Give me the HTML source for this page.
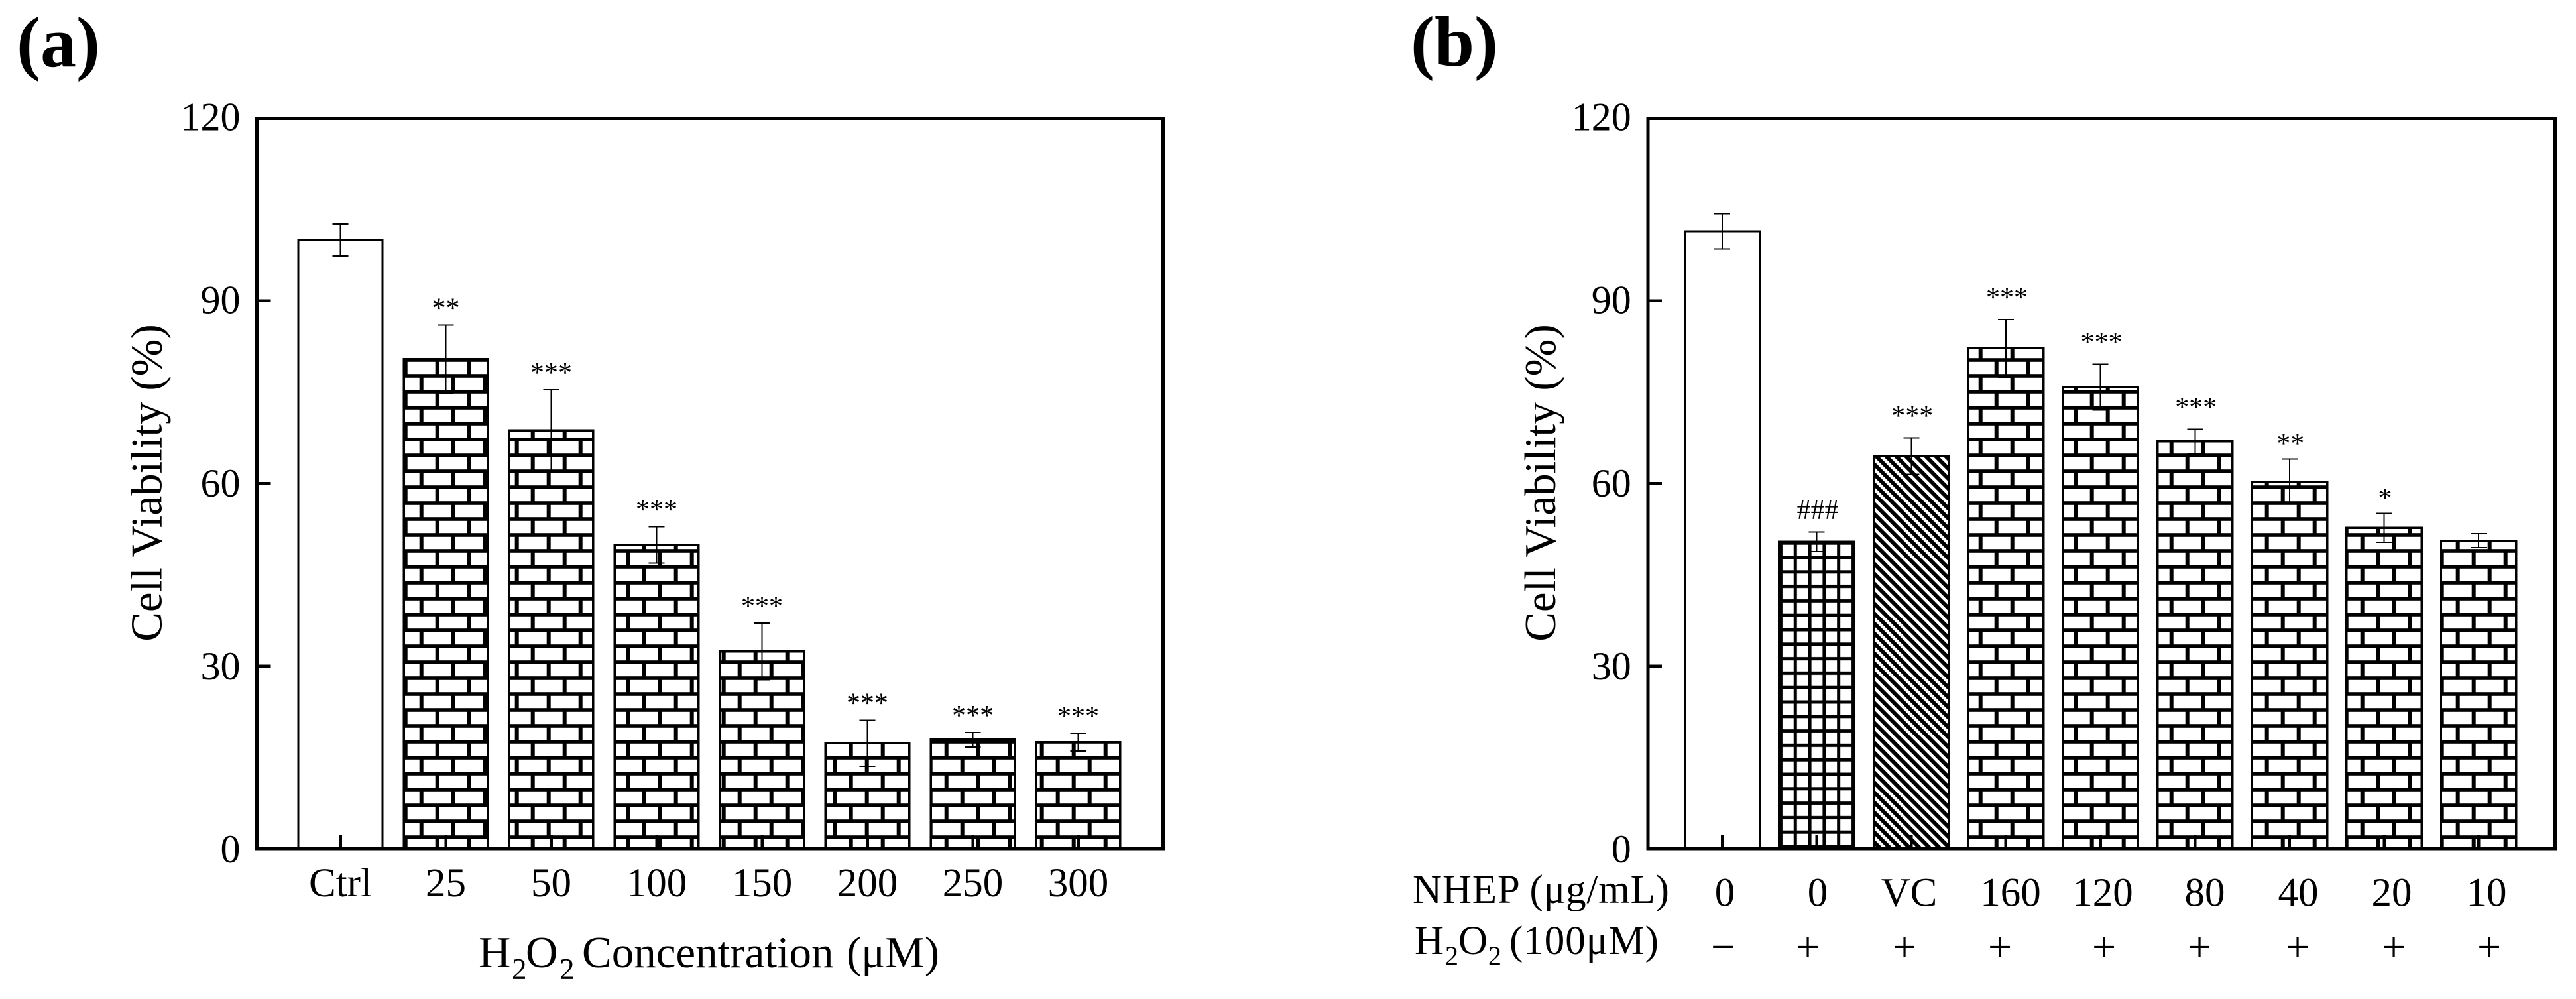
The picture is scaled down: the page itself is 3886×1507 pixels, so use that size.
<!DOCTYPE html>
<html lang="en">
<head>
<meta charset="utf-8">
<title>Cell viability bar charts</title>
<style>
html,body{margin:0;padding:0;background:#fff;}
svg{display:block;}
text{font-family:"Liberation Serif","Times New Roman",serif;fill:#000;}
</style>
</head>
<body>
<svg id="figure" xmlns="http://www.w3.org/2000/svg" width="3886" height="1507" viewBox="0 0 3886 1507">
  <defs>
    <pattern id="brick" patternUnits="userSpaceOnUse" width="48" height="48">
      <rect width="48" height="48" fill="#fff"/>
      <rect x="0" y="12.2" width="48" height="5.6" fill="#000"/>
      <rect x="0" y="36.2" width="48" height="5.6" fill="#000"/>
      <rect x="32.7" y="15" width="6" height="24" fill="#000"/>
      <rect x="8.7" y="39" width="6" height="9" fill="#000"/>
      <rect x="8.7" y="0" width="6" height="15" fill="#000"/>
    </pattern>
    <pattern id="grid" patternUnits="userSpaceOnUse" width="21.8" height="21.8">
      <rect width="21.8" height="21.8" fill="#fff"/>
      <rect x="2.6" y="0" width="5" height="21.8" fill="#000"/>
      <rect x="0" y="10.1" width="21.8" height="5" fill="#000"/>
    </pattern>
    <pattern id="diag" patternUnits="userSpaceOnUse" width="15" height="15" patternTransform="translate(2830,688)">
      <rect width="15" height="15" fill="#fff"/>
      <path d="M-5,-5L20,20M-20,-5L5,20M10,-5L35,20" stroke="#000" stroke-width="6" fill="none"/>
    </pattern>
  </defs>

  <rect x="0" y="0" width="3886" height="1507" fill="#fff"/>

  <text x="25" y="100" font-size="108" font-weight="bold">(a)</text>
  <text x="2128" y="99" font-size="108" font-weight="bold">(b)</text>

  <g id="panel-a"></g>
  <g id="panel-b"></g>

  <text transform="translate(243.3,728.5) rotate(-90)" text-anchor="middle" font-size="67">Cell Viability (%)</text>
  <text transform="translate(2346,728.5) rotate(-90)" text-anchor="middle" font-size="67">Cell Viability (%)</text>

  <g>
    <text x="722" y="1459" font-size="67">H</text>
    <text x="772" y="1477" font-size="45">2</text>
    <text x="793" y="1459" font-size="67">O</text>
    <text x="844" y="1477" font-size="45">2</text>
    <text x="878" y="1459" font-size="67">Concentration</text>
    <text x="1277" y="1459" font-size="67">(μM)</text>
  </g>

  <text x="2131" y="1362" font-size="61" textLength="387" lengthAdjust="spacing">NHEP (μg/mL)</text>
  <g>
    <text x="2134" y="1439" font-size="61">H</text>
    <text x="2180" y="1455" font-size="40">2</text>
    <text x="2200" y="1439" font-size="61">O</text>
    <text x="2245" y="1455" font-size="40">2</text>
    <text x="2277" y="1439" font-size="61" textLength="225" lengthAdjust="spacing">(100μM)</text>
  </g>

  <g font-size="61" text-anchor="middle">
    <text x="2602" y="1366.5">0</text>
    <text x="2742" y="1366.5">0</text>
    <text x="2880" y="1366.5">VC</text>
    <text x="3033" y="1366.5">160</text>
    <text x="3172" y="1366.5">120</text>
    <text x="3326" y="1366.5">80</text>
    <text x="3467" y="1366.5">40</text>
    <text x="3608" y="1366.5">20</text>
    <text x="3751" y="1366.5">10</text>
  </g>
  <g font-size="64" text-anchor="middle">
    <text x="2599" y="1449.5">−</text>
    <text x="2727" y="1449.5">+</text>
    <text x="2873" y="1449.5">+</text>
    <text x="3017" y="1449.5">+</text>
    <text x="3174" y="1449.5">+</text>
    <text x="3318" y="1449.5">+</text>
    <text x="3466" y="1449.5">+</text>
    <text x="3611" y="1449.5">+</text>
    <text x="3755" y="1449.5">+</text>
  </g>
</svg>

<script>
var yTickValues = [0, 30, 60, 90, 120];

var categoriesA = ['Ctrl', '25', '50', '100', '150', '200', '250', '300'];
var valuesA = [100, 80.4, 68.7, 49.9, 32.4, 17.3, 17.9, 17.5];
var errorsA = [2.6, 5.6, 6.7, 3, 4.65, 3.8, 1.2, 1.45];
var marksA = ['', '**', '***', '***', '***', '***', '***', '***'];
var fillsA = ['none', 'brick', 'brick', 'brick', 'brick', 'brick', 'brick', 'brick'];

var categoriesB = ['0', '0', 'VC', '160', '120', '80', '40', '20', '10'];
var valuesB = [101.4, 50.4, 64.5, 82.2, 75.8, 66.9, 60.3, 52.7, 50.6];
var errorsB = [2.9, 1.6, 3, 4.75, 3.75, 2, 3.7, 2.35, 1.15];
var marksB = ['', '###', '***', '***', '***', '***', '**', '*', ''];
var fillsB = ['none', 'grid', 'diag', 'brick', 'brick', 'brick', 'brick', 'brick', 'brick'];

var SVGNS = 'http://www.w3.org/2000/svg';
var Y0 = 1280.2, Y120 = 178.3;

function yScale(v) {
  return Y0 - (v / 120) * (Y0 - Y120);
}

function makeEl(tag, parent, attrs) {
  var el = document.createElementNS(SVGNS, tag);
  for (var k in attrs) { el.setAttribute(k, attrs[k]); }
  parent.appendChild(el);
  return el;
}

function drawPanel(cfg) {
  var g = document.getElementById(cfg.id);
  var xScale = function (i) { return cfg.x0 + cfg.step * i; };

  cfg.values.forEach(function (v, i) {
    var cx = xScale(i);
    var top = yScale(v);
    var w = cfg.barWidth;
    var isPlain = cfg.fills[i] === 'none';
    var bar = makeEl('rect', g, {
      x: cx - w / 2, y: top, width: w, height: Y0 - top,
      fill: isPlain ? '#fff' : 'url(#' + cfg.fills[i] + ')',
      stroke: '#000', 'stroke-width': isPlain ? 3 : 3.4,
      'shape-rendering': 'crispEdges'
    });
    
    
  });

  yTickValues.forEach(function (t) {
    var y = yScale(t);
    if (t > 0 && t < 120) {
      var tick = makeEl('rect', g, {
        x: cfg.left, y: y - 2.25, width: 21, height: 4.5, fill: '#000',
        'shape-rendering': 'crispEdges'
      });
      
      
    }
    var label = makeEl('text', g, {
      x: cfg.left - 25, y: y + 21 - 3 * t / 120,
      'text-anchor': 'end', 'font-size': 60
    });
    label.textContent = String(t);
    
    
  });

  cfg.categories.forEach(function (c, i) {
    var tick = makeEl('rect', g, {
      x: xScale(i) - 2.25, y: Y0 - 21, width: 4.5, height: 21, fill: '#000',
      'shape-rendering': 'crispEdges'
    });
    
    
    if (cfg.showCategoryLabels) {
      var label = makeEl('text', g, {
        x: xScale(i), y: 1352, 'text-anchor': 'middle', 'font-size': 61
      });
      label.textContent = c;
      
      
    }
  });

  cfg.values.forEach(function (v, i) {
    var cx = xScale(i);
    var hi = yScale(v + cfg.errors[i]);
    var lo = yScale(v - cfg.errors[i]);
    var stem = makeEl('rect', g, {
      x: cx - 1, y: hi, width: 2, height: lo - hi, fill: '#000',
      'shape-rendering': 'crispEdges'
    });
    
    
    var capTop = makeEl('rect', g, {
      x: cx - 12, y: hi - 1, width: 24, height: 2, fill: '#000',
      'shape-rendering': 'crispEdges'
    });
    
    
    var capLow = makeEl('rect', g, {
      x: cx - 12, y: lo - 1, width: 24, height: 2, fill: '#000',
      'shape-rendering': 'crispEdges'
    });
    
    
    if (cfg.marks[i]) {
      var mark = makeEl('text', g, {
        x: cx + cfg.markShift, y: hi - cfg.markGap(cfg.marks[i]),
        'text-anchor': 'middle', 'font-size': 42
      });
      mark.textContent = cfg.marks[i];
      
      
    }
  });

  var frame = makeEl('rect', g, {
    x: cfg.left, y: Y120, width: cfg.right - cfg.left, height: Y0 - Y120,
    fill: 'none', stroke: '#000', 'stroke-width': 5,
    'shape-rendering': 'crispEdges'
  });
  
  
}

drawPanel({
  id: 'panel-a', suffix: 'a',
  left: 387.5, right: 1754.7, x0: 513.5, step: 159, barWidth: 126.6,
  categories: categoriesA, values: valuesA, errors: errorsA, marks: marksA, fills: fillsA,
  showCategoryLabels: true, markShift: 0,
  markGap: function () { return 12; }
});

drawPanel({
  id: 'panel-b', suffix: 'b',
  left: 2485.8, right: 3854.7, x0: 2598, step: 142.65, barWidth: 113.4,
  categories: categoriesB, values: valuesB, errors: errorsB, marks: marksB, fills: fillsB,
  showCategoryLabels: false, markShift: 1.5,
  markGap: function (m) { return m.length >= 3 ? 19.5 : 9.5; }
});
</script>
</body>
</html>
